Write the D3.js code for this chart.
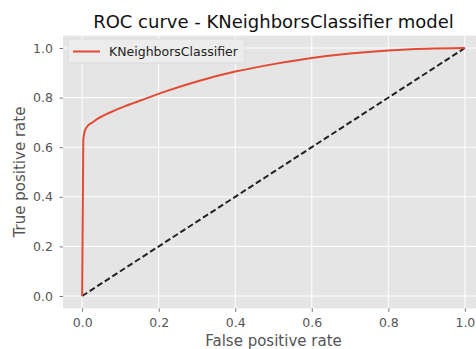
<!DOCTYPE html>
<html>
<head>
<meta charset="utf-8">
<script src="https://d3js.org/d3.v7.min.js"></script>
<style>
  body { margin: 0; background: #fff; }
  text { font-family: "DejaVu Sans", sans-serif; }
</style>
</head>
<body>
<div id="chart"></div>
<script>
// ROC curve values
var fpr = [0, 0.003, 0.006, 0.01, 0.016, 0.025, 0.042, 0.077, 0.12, 0.164, 0.216, 0.3, 0.4, 0.5, 0.6, 0.7, 0.8, 0.9, 1.0];
var tpr = [0, 0.63, 0.66, 0.676, 0.689, 0.698, 0.716, 0.743, 0.77, 0.795, 0.824, 0.865, 0.905, 0.935, 0.96, 0.978, 0.99, 0.997, 1.0];
var diagX = [0, 1];
var diagY = [0, 1];
var ticks = [0, 0.2, 0.4, 0.6, 0.8, 1.0];
var seriesName = "KNeighborsClassifier";

var W = 476, H = 349;
var pLeft = 63, pTop = 35.6, pRight = 484, pBottom = 308.4;

var svg = d3.select("#chart").append("svg")
  .attr("width", W)
  .attr("height", H);

var x = d3.scaleLinear().domain([-0.05, 1.05]).range([pLeft, pRight]);
var y = d3.scaleLinear().domain([-0.05, 1.05]).range([pBottom, pTop]);

// plot background
svg.append("rect")
  .attr("x", pLeft).attr("y", pTop)
  .attr("width", pRight - pLeft).attr("height", pBottom - pTop)
  .attr("fill", "#e5e5e5");

// grid
svg.append("g").selectAll("line").data(ticks).enter().append("line")
  .attr("x1", d => x(d)).attr("x2", d => x(d))
  .attr("y1", pTop).attr("y2", pBottom)
  .attr("stroke", "#fff").attr("stroke-width", 1);
svg.append("g").selectAll("line").data(ticks).enter().append("line")
  .attr("y1", d => y(d)).attr("y2", d => y(d))
  .attr("x1", pLeft).attr("x2", pRight)
  .attr("stroke", "#fff").attr("stroke-width", 1);

// axes
var xAxis = d3.axisBottom(x).tickValues(ticks).tickFormat(d3.format(".1f")).tickSize(3.5).tickPadding(6.5);
var yAxis = d3.axisLeft(y).tickValues(ticks).tickFormat(d3.format(".1f")).tickSize(3.5).tickPadding(6.5);

var gx = svg.append("g").attr("transform", "translate(0," + pBottom + ")").call(xAxis);
var gy = svg.append("g").attr("transform", "translate(" + pLeft + ",0)").call(yAxis);
[gx, gy].forEach(function(g) {
  g.select(".domain").remove();
  g.selectAll(".tick line").attr("stroke", "#555").attr("stroke-width", 0.8);
  g.selectAll(".tick text").attr("fill", "#555").style("font-size", "12.5px")
    .style("font-family", "DejaVu Sans, sans-serif");
});

// diagonal
var line = d3.line().x(d => x(d[0])).y(d => y(d[1]));
svg.append("path")
  .datum(diagX.map((v, i) => [v, diagY[i]]))
  .attr("d", line)
  .attr("fill", "none")
  .attr("stroke", "#222")
  .attr("stroke-width", 2)
  .attr("stroke-dasharray", "6,3");

// roc curve
svg.append("path")
  .datum(fpr.map((v, i) => [v, tpr[i]]))
  .attr("d", line.curve(d3.curveMonotoneX))
  .attr("fill", "none")
  .attr("stroke", "#e24a33")
  .attr("stroke-width", 2);

// legend
var lg = svg.append("g");
lg.append("rect")
  .attr("x", 68).attr("y", 39).attr("width", 177).attr("height", 24).attr("rx", 2)
  .attr("fill", "#ececec").attr("fill-opacity", 0.9)
  .attr("stroke", "#d8d8d8").attr("stroke-width", 0.8);
lg.append("line")
  .attr("x1", 73).attr("x2", 100).attr("y1", 51.5).attr("y2", 51.5)
  .attr("stroke", "#e24a33").attr("stroke-width", 2);
lg.append("text")
  .attr("x", 109).attr("y", 56)
  .style("font-size", "12.5px").attr("fill", "#222")
  .text(seriesName);

// title and labels
svg.append("text")
  .attr("x", (pLeft + pRight) / 2).attr("y", 28)
  .attr("text-anchor", "middle")
  .style("font-size", "18px").attr("fill", "#111")
  .text("ROC curve - KNeighborsClassifier model");

svg.append("text")
  .attr("x", (pLeft + pRight) / 2).attr("y", 346)
  .attr("text-anchor", "middle")
  .style("font-size", "15px").attr("fill", "#555")
  .text("False positive rate");

svg.append("text")
  .attr("transform", "translate(25," + ((pTop + pBottom) / 2) + ") rotate(-90)")
  .attr("text-anchor", "middle")
  .style("font-size", "15px").attr("fill", "#555")
  .text("True positive rate");
</script>
</body>
</html>
